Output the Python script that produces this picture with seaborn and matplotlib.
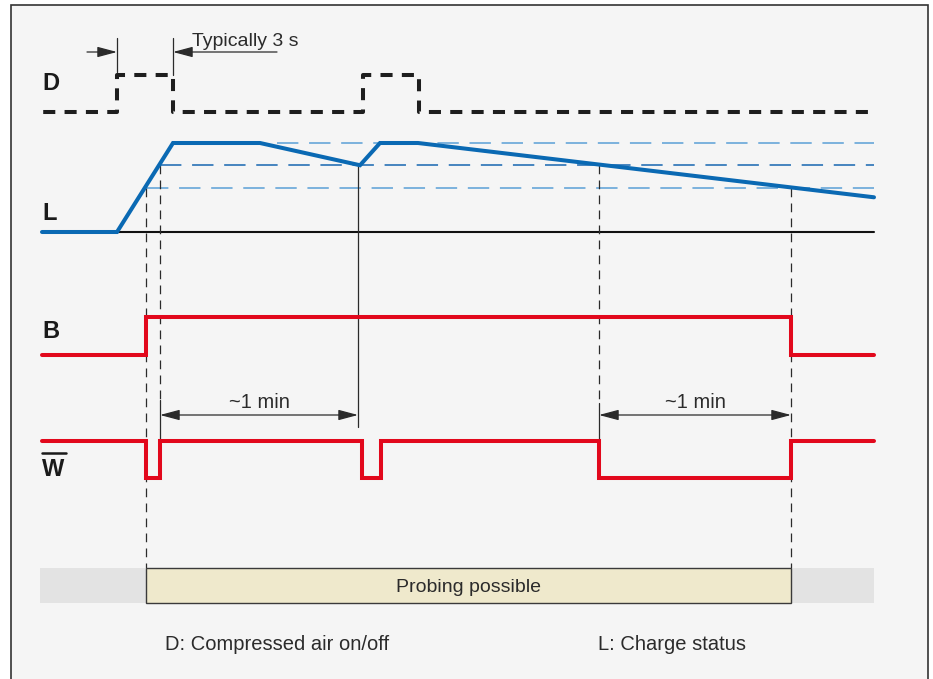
import matplotlib
matplotlib.use('Agg')
import matplotlib.pyplot as plt
import matplotlib.patches as mpatches
import seaborn as sns

# --- signal data (time in chart units, left to right) ---
d_times = [42, 117, 173, 363, 419, 874]
d_levels = [0, 1, 0, 1, 0, 0]

l_times = [42, 117, 173, 260, 360, 380, 418, 874]
l_charge = [0.0, 0.0, 1.0, 1.0, 0.75, 1.0, 1.0, 0.39]
l_thresholds = [1.0, 0.75, 0.5]
l_threshold_from = [277, 160, 147]

b_times = [42, 146, 791, 874]
b_levels = [0, 1, 0, 0]

w_times = [42, 146, 160, 362, 381, 599, 791, 874]
w_levels = [1, 0, 1, 0, 1, 0, 1, 1]

t_start, t_end = 42, 874
probe_start, probe_end = 146, 791
t_ready, t_dip, t_warn = 160, 358, 599

# lane: (y at level 0, y at level 1)
lanes = {'D': (112, 75), 'L': (232, 143), 'B': (355, 317), 'W': (478, 441)}


def to_y(lane, values):
    y0, y1 = lanes[lane]
    return [y0 + (y1 - y0) * v for v in values]


sns.set_theme(style='white')
plt.rcParams['font.family'] = ['Liberation Sans', 'DejaVu Sans']

fig = plt.figure(figsize=(9.33, 6.79), dpi=100)
fig.patch.set_facecolor('white')
ax = fig.add_axes([0, 0, 1, 1])
ax.set_xlim(0, 933)
ax.set_ylim(679, 0)
ax.axis('off')

# frame
ax.add_patch(mpatches.Rectangle((11, 5), 917, 700, facecolor='#f5f5f5',
                                edgecolor='#333333', linewidth=1.2, zorder=0))

ink = '#2b2b2b'
blue = '#0a69b3'
red = '#e2081c'

# charge thresholds
for lvl, x0, col in zip(l_thresholds, l_threshold_from, ['#5b9fd6', '#1666b0', '#5b9fd6']):
    y = to_y('L', [lvl])[0]
    ax.plot([x0, t_end], [y, y], color=col, lw=1.1, linestyle=(0, (14, 7)), zorder=1)

# L baseline
ax.plot([d_times[1], t_end], [lanes['L'][0]] * 2, color='#111111', lw=1.5, zorder=1)

# vertical guide lines
guide = dict(color=ink, lw=0.9, zorder=1)
ax.plot([probe_start, probe_start], [to_y('L', [0.5])[0], 568], linestyle=(0, (7, 5)), **guide)
ax.plot([t_ready, t_ready], [to_y('L', [0.75])[0], 400], linestyle=(0, (7, 5)), **guide)
ax.plot([t_ready, t_ready], [400, 441], **guide)
ax.plot([t_dip, t_dip], [to_y('L', [0.75])[0], 427], **guide)
ax.plot([t_warn, t_warn], [to_y('L', [0.75])[0], 403], linestyle=(0, (7, 5)), **guide)
ax.plot([t_warn, t_warn], [403, 441], **guide)
ax.plot([probe_end, probe_end], [to_y('L', [0.5])[0], 568], linestyle=(0, (7, 5)), **guide)

# signals
sns.lineplot(x=d_times, y=to_y('D', d_levels), ax=ax, estimator=None, sort=False,
             drawstyle='steps-post', color='#1e1e1e', linewidth=2.9,
             linestyle=(5, (3, 2.3)), dash_capstyle='butt', zorder=3)
sns.lineplot(x=l_times, y=to_y('L', l_charge), ax=ax, estimator=None, sort=False,
             color=blue, linewidth=2.9, solid_joinstyle='miter', zorder=3)
sns.lineplot(x=b_times, y=to_y('B', b_levels), ax=ax, estimator=None, sort=False,
             drawstyle='steps-post', color=red, linewidth=2.9,
             solid_joinstyle='miter', zorder=3)
sns.lineplot(x=w_times, y=to_y('W', w_levels), ax=ax, estimator=None, sort=False,
             drawstyle='steps-post', color=red, linewidth=2.9,
             solid_joinstyle='miter', zorder=3)

# lane labels
for name in ['D', 'L', 'B', 'W']:
    ytxt = {'D': 84, 'L': 213, 'B': 332, 'W': 469}[name]
    ax.text(42, ytxt, name, fontsize=17, fontweight='bold', color='#1a1a1a',
            ha='left', va='center')
ax.plot([42, 66], [453, 453], color='#1a1a1a', lw=1.8)

# "Typically 3 s" dimension
ax.plot([d_times[1], d_times[1]], [38, 72], **guide)
ax.plot([d_times[2], d_times[2]], [38, 75], **guide)
arrow = dict(arrowstyle='-|>,head_length=0.6,head_width=0.16', color=ink, lw=0.9,
             shrinkA=0, shrinkB=0, mutation_scale=20)
ax.annotate('', xy=(d_times[1], 52), xytext=(87, 52), arrowprops=arrow)
ax.annotate('', xy=(d_times[2], 52), xytext=(277, 52), arrowprops=arrow)
ax.text(192, 42, 'Typically 3 s', fontsize=14, color=ink, ha='left', va='center')

# "~1 min" dimensions
darrow = dict(arrowstyle='<|-|>,head_length=0.6,head_width=0.16', color=ink, lw=0.9,
              shrinkA=0, shrinkB=0, mutation_scale=20)
for x0, x1 in [(t_ready, t_dip), (t_warn, probe_end)]:
    ax.annotate('', xy=(x1, 415), xytext=(x0, 415), arrowprops=darrow)
    ax.text((x0 + x1) / 2, 403, '~1 min', fontsize=14.5, color=ink, ha='center', va='center')

# probing window
ax.add_patch(mpatches.Rectangle((t_start - 2, 568), t_end - t_start + 2, 35,
                                facecolor='#e3e3e3', edgecolor='none', zorder=1))
ax.add_patch(mpatches.Rectangle((probe_start, 568), probe_end - probe_start, 35,
                                facecolor='#efe9cc', edgecolor='#3a3a3a', linewidth=1.0, zorder=2))
ax.text((probe_start + probe_end) / 2, 588, 'Probing possible', fontsize=14,
        color=ink, ha='center', va='center')

ax.text(165, 644, 'D: Compressed air on/off', fontsize=14.5, color=ink, ha='left', va='center')
ax.text(598, 644, 'L: Charge status', fontsize=14.5, color=ink, ha='left', va='center')

fig.savefig('out.png', dpi=100, facecolor=fig.get_facecolor())
